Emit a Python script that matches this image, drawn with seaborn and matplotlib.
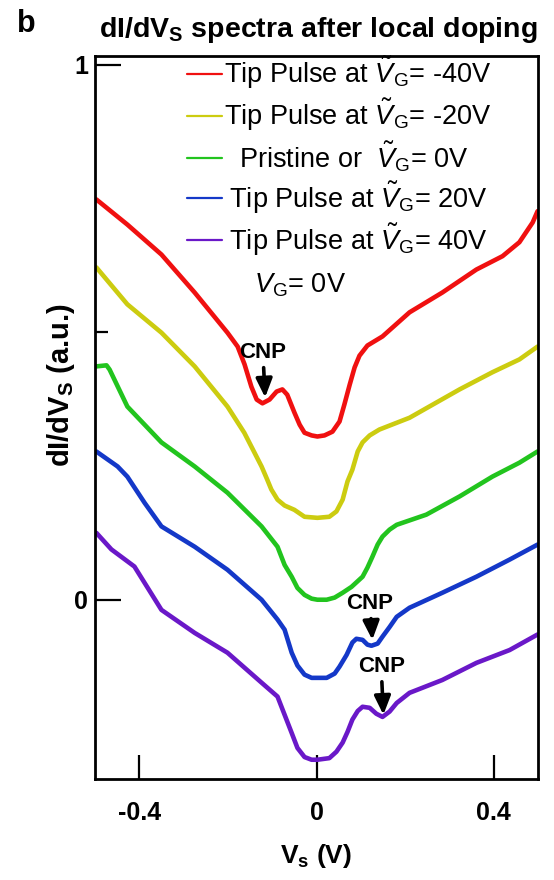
import numpy as np
import pandas as pd
import matplotlib
matplotlib.use("Agg")
import matplotlib.pyplot as plt
import seaborn as sns

# ---------------- data ----------------
labels = [
    r"Tip Pulse at $\tilde{V}_\mathrm{G}$= -40V",
    r"Tip Pulse at $\tilde{V}_\mathrm{G}$= -20V",
    r"  Pristine or  $\tilde{V}_\mathrm{G}$= 0V",
    "\u2009" + r"Tip Pulse at $\tilde{V}_\mathrm{G}$= 20V",
    "\u2009" + r"Tip Pulse at $\tilde{V}_\mathrm{G}$= 40V",
]
colors = ["#f01010", "#cccc10", "#22c41e", "#1438c8", "#6a18c8"]

red_x = [-0.497, -0.427, -0.350, -0.275, -0.201, -0.178, -0.1625, -0.147, -0.135, -0.122, -0.106,
         -0.090, -0.077, -0.066, -0.050, -0.038, -0.027, -0.011, 0.002, 0.018, 0.036, 0.052, 0.063,
         0.075, 0.086, 0.097, 0.115, 0.149, 0.210, 0.284, 0.361, 0.420, 0.458, 0.488, 0.499]
red_y = [0.748, 0.701, 0.645, 0.574, 0.499, 0.473, 0.440, 0.398, 0.374, 0.367, 0.374,
         0.389, 0.393, 0.383, 0.350, 0.327, 0.312, 0.307, 0.305, 0.307, 0.314, 0.333, 0.365,
         0.402, 0.434, 0.456, 0.475, 0.492, 0.537, 0.574, 0.617, 0.642, 0.668, 0.705, 0.726]

yel_x = [-0.497, -0.427, -0.350, -0.275, -0.201, -0.163, -0.124, -0.111, -0.102, -0.088, -0.072,
         -0.050, -0.027, 0.002, 0.029, 0.045, 0.059, 0.070, 0.081, 0.093, 0.104, 0.120, 0.142,
         0.210, 0.323, 0.397, 0.458, 0.499]
yel_y = [0.621, 0.552, 0.499, 0.436, 0.361, 0.312, 0.249, 0.224, 0.206, 0.187, 0.176,
         0.168, 0.155, 0.153, 0.155, 0.165, 0.187, 0.221, 0.243, 0.277, 0.294, 0.307, 0.318,
         0.340, 0.393, 0.425, 0.449, 0.473]

grn_x = [-0.497, -0.474, -0.467, -0.427, -0.350, -0.275, -0.201, -0.124, -0.088, -0.072, -0.056,
         -0.043, -0.027, -0.011, 0.002, 0.023, 0.041, 0.059, 0.079, 0.104, 0.115, 0.126, 0.138,
         0.149, 0.165, 0.181, 0.248, 0.323, 0.397, 0.458, 0.499]
grn_y = [0.436, 0.438, 0.430, 0.361, 0.294, 0.249, 0.200, 0.137, 0.099, 0.065, 0.043,
         0.022, 0.009, 0.002, 0.000, 0.000, 0.004, 0.013, 0.024, 0.043, 0.060, 0.080, 0.103,
         0.118, 0.131, 0.140, 0.159, 0.193, 0.230, 0.256, 0.277]

blu_x = [-0.497, -0.449, -0.427, -0.388, -0.350, -0.275, -0.201, -0.124, -0.088, -0.072, -0.056,
         -0.043, -0.027, -0.011, 0.002, 0.023, 0.041, 0.052, 0.068, 0.081, 0.090, 0.104, 0.115,
         0.124, 0.138, 0.149, 0.165, 0.181, 0.210, 0.284, 0.361, 0.436, 0.499]
blu_y = [0.277, 0.249, 0.230, 0.181, 0.137, 0.099, 0.056, 0.000, -0.037, -0.056, -0.099,
         -0.123, -0.140, -0.146, -0.146, -0.146, -0.138, -0.125, -0.103, -0.080, -0.073, -0.075, -0.084,
         -0.086, -0.082, -0.069, -0.051, -0.032, -0.015, 0.013, 0.043, 0.075, 0.103]

pur_x = [-0.497, -0.463, -0.411, -0.350, -0.275, -0.201, -0.124, -0.088, -0.072, -0.056, -0.043,
         -0.027, -0.011, 0.002, 0.029, 0.045, 0.059, 0.070, 0.081, 0.093, 0.104, 0.120, 0.135,
         0.149, 0.165, 0.181, 0.210, 0.284, 0.361, 0.436, 0.499]
pur_y = [0.125, 0.094, 0.062, -0.019, -0.062, -0.099, -0.155, -0.181, -0.215, -0.249, -0.277,
         -0.294, -0.299, -0.299, -0.296, -0.284, -0.267, -0.247, -0.224, -0.208, -0.200, -0.202, -0.213,
         -0.219, -0.209, -0.193, -0.174, -0.150, -0.118, -0.094, -0.065]

series_x = [red_x, yel_x, grn_x, blu_x, pur_x]
series_y = [red_y, yel_y, grn_y, blu_y, pur_y]

# CNP arrows: (x, y of arrow tip, y of text centre)
cnp_x = [-0.116, 0.126, 0.151]
cnp_tip = [0.378, -0.075, -0.215]
cnp_text = [0.462, -0.007, -0.125]

xticks = [-0.4, 0.0, 0.4]
xtick_labels = ["-0.4", "0", "0.4"]
yticks = [0, 1]
ytick_labels = ["0", "1"]

# ---------------- build table ----------------
rows = []
for lab, xs, ys in zip(labels, series_x, series_y):
    for i, (a, b) in enumerate(zip(xs, ys)):
        rows.append({"V": a, "G": b, "label": lab, "order": i})
df = pd.DataFrame(rows)

sns.set_theme(style="ticks")
plt.rcParams["font.family"] = ["Liberation Sans", "DejaVu Sans"]
plt.rcParams["mathtext.fontset"] = "custom"
plt.rcParams["mathtext.rm"] = "Liberation Sans"
plt.rcParams["mathtext.it"] = "Liberation Sans:italic"
plt.rcParams["mathtext.bf"] = "Liberation Sans:bold"
for key in ["text.color", "axes.labelcolor", "xtick.color", "ytick.color", "axes.edgecolor"]:
    plt.rcParams[key] = "black"

fig = plt.figure(figsize=(5.54, 8.8), dpi=100)
ax = fig.add_axes([95 / 554, 1 - 779 / 880, 443 / 554, (779 - 56) / 880])

sns.lineplot(data=df, x="V", y="G", hue="label", hue_order=labels,
             palette=colors, sort=False, estimator=None, lw=3.3, ax=ax)

ax.set_xlim(-0.5, 0.5)
ax.set_ylim(-0.335, 1.016)

ax.set_xticks(xticks)
ax.set_xticklabels(xtick_labels, fontsize=18, fontweight="bold")
ax.set_yticks(yticks)
ax.set_yticklabels(ytick_labels, fontsize=18, fontweight="bold")
ax.set_yticks([0.5], minor=True)
ax.tick_params(axis="x", direction="in", length=17, width=1.6, pad=16)
ax.tick_params(axis="y", direction="in", length=19, width=1.6, pad=5)
ax.tick_params(axis="y", which="minor", direction="in", length=9, width=1.6)
for s in ax.spines.values():
    s.set_linewidth(2.0)

ax.set_xlabel(r"V$_\mathbf{s}$ (V)", fontsize=19, fontweight="bold", labelpad=12)
ax.set_ylabel(r"dI/dV$_\mathbf{S}$ (a.u.)", fontsize=21, fontweight="bold")
ax.yaxis.set_label_coords(-0.041, 0.545)
ax.set_title(r"dI/dV$_\mathbf{S}$ spectra after local doping", fontsize=20.5,
             fontweight="bold", pad=14, x=0.505)
fig.text(0.031, 0.99, "b", fontsize=22, fontweight="bold", va="top")

h, l = ax.get_legend_handles_labels()
leg = ax.legend(h, l, loc="upper left", bbox_to_anchor=(0.207, 1.001), frameon=False,
                fontsize=19.5, handlelength=1.29, handletextpad=0.1, labelspacing=0.21,
                borderpad=0.0, borderaxespad=0.0)
for lh in leg.legend_handles:
    lh.set_linewidth(1.6)

ax.text(-0.038, 0.588, r"$V_\mathrm{G}$= 0V", fontsize=19.5, ha="center", va="center")

for xc, yt, ytx in zip(cnp_x, cnp_tip, cnp_text):
    ax.annotate("CNP", xy=(xc, yt), xytext=(xc - 0.005, ytx), ha="center", va="center",
                fontsize=16, fontweight="bold",
                arrowprops=dict(arrowstyle="-|>,head_length=0.8,head_width=0.35", color="black",
                                lw=2.6, shrinkA=1, shrinkB=0, mutation_scale=14))

fig.savefig("out.png", dpi=100)
